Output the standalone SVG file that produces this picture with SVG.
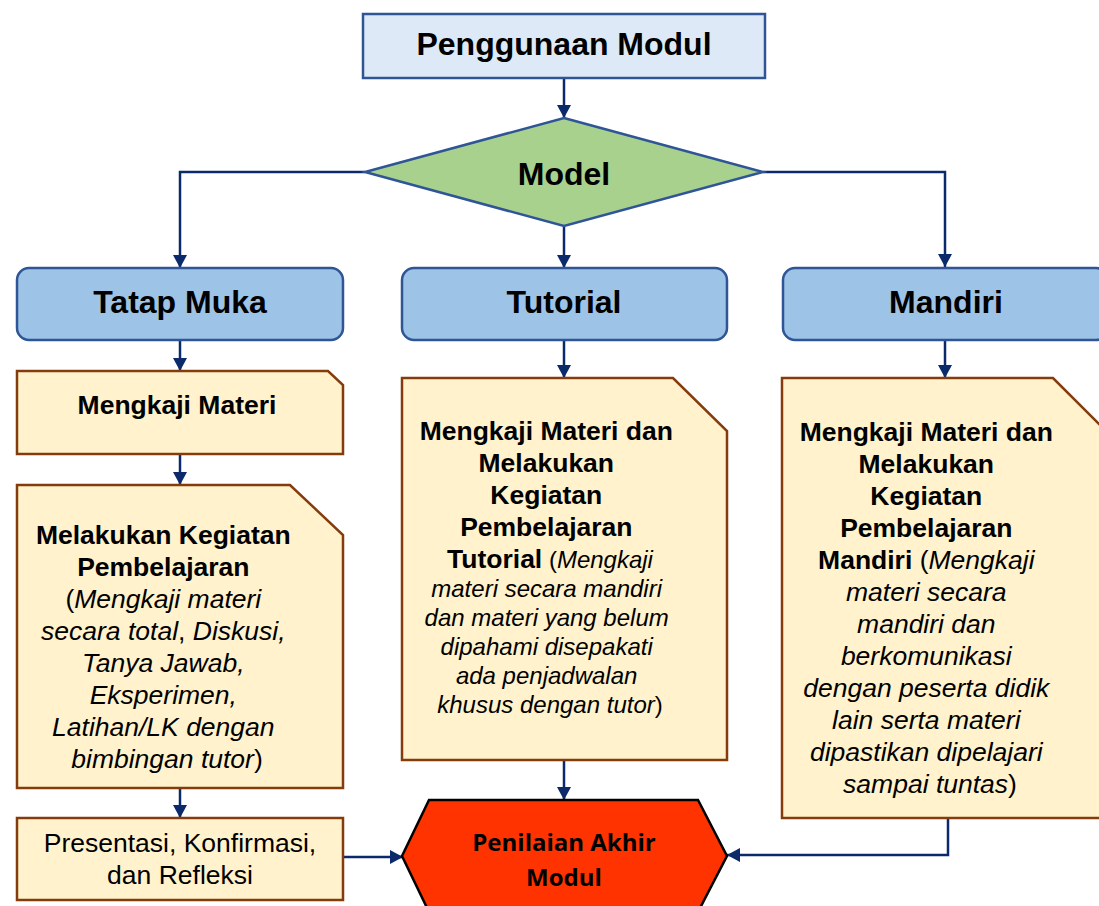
<svg xmlns="http://www.w3.org/2000/svg" width="1099" height="906" viewBox="0 0 1099 906">
<style>
.t{font-family:"Liberation Sans",Arial,sans-serif;fill:#000;text-anchor:middle}
.h{font-size:32px;font-weight:bold}
.b{font-weight:bold}
.i{font-style:italic}
.n{font-style:normal;font-weight:normal}
.s26{font-size:26.5px}
.s24{font-size:24px}
.top{fill:#dde9f6;stroke:#2f5597;stroke-width:2.5}
.dia{fill:#a9d18e;stroke:#2f5597;stroke-width:2.5}
.hdr{fill:#9dc3e6;stroke:#2f5597;stroke-width:2.5}
.doc{fill:#fff2cc;stroke:#843c0c;stroke-width:2.5}
.hex{fill:#ff3300;stroke:#000;stroke-width:2.5}
.c{fill:none;stroke:#0b2a6b;stroke-width:2.5}
</style>
<defs>
<marker id="ah" viewBox="0 0 13 14" refX="13" refY="7" markerWidth="13" markerHeight="14" markerUnits="userSpaceOnUse" orient="auto">
<path d="M0,0 L13,7 L0,14 Z" fill="#0b2a6b"/>
</marker>
</defs>

<g id="connectors">
<path class="c" d="M564,79 V118" marker-end="url(#ah)"/>
<path class="c" d="M365,172 H180 V268" marker-end="url(#ah)"/>
<path class="c" d="M564,226 V268" marker-end="url(#ah)"/>
<path class="c" d="M763,172 H945 V267" marker-end="url(#ah)"/>
<path class="c" d="M180,341 V371" marker-end="url(#ah)"/>
<path class="c" d="M564,341 V378" marker-end="url(#ah)"/>
<path class="c" d="M945,341 V378" marker-end="url(#ah)"/>
<path class="c" d="M180,455 V485" marker-end="url(#ah)"/>
<path class="c" d="M180,789 V818" marker-end="url(#ah)"/>
<path class="c" d="M564,761 V800" marker-end="url(#ah)"/>
<path class="c" d="M343,857 H403" marker-end="url(#ah)"/>
<path class="c" d="M948,818 V855 H727" marker-end="url(#ah)"/>
</g>

<g id="penggunaan">
<rect class="top" x="363" y="14" width="402" height="64"/>
<text class="t h" x="564" y="55">Penggunaan Modul</text>
</g>

<g id="model">
<polygon class="dia" points="564,118 763,172 564,226 365,172"/>
<text class="t h" x="564" y="185">Model</text>
</g>

<g id="tatapmuka">
<rect class="hdr" x="17" y="268" width="326" height="72" rx="12"/>
<text class="t h" x="180" y="313">Tatap Muka</text>
</g>

<g id="tutorial">
<rect class="hdr" x="402" y="268" width="325" height="72" rx="12"/>
<text class="t h" x="564" y="313">Tutorial</text>
</g>

<g id="mandiri">
<rect class="hdr" x="783" y="268" width="325" height="72" rx="12"/>
<text class="t h" x="946" y="313">Mandiri</text>
</g>

<g id="mengkaji">
<polygon class="doc" points="17,371 328,371 343,385 343,454 17,454"/>
<text class="t b s26" x="177" y="414">Mengkaji Materi</text>
</g>

<g id="melakukan">
<polygon class="doc" points="17,485 290,485 343,535 343,788 17,788"/>
<text class="t s26" x="167">
<tspan class="b" x="167" y="544">Melakukan Kegiatan</tspan>
<tspan class="b" x="167" y="576">Pembelajaran</tspan>
<tspan x="167" y="608">(<tspan class="i">Mengkaji materi</tspan></tspan>
<tspan x="167" y="640"><tspan class="i">secara total</tspan>, <tspan class="i">Diskusi,</tspan></tspan>
<tspan class="i" x="167" y="672">Tanya Jawab,</tspan>
<tspan class="i" x="167" y="704">Eksperimen,</tspan>
<tspan class="i" x="167" y="736">Latihan/LK dengan</tspan>
<tspan x="167" y="768"><tspan class="i">bimbingan tutor</tspan>)</tspan>
</text>
</g>

<g id="presentasi">
<rect class="doc" x="17" y="818" width="326" height="82"/>
<text class="t s26" x="180" y="852">Presentasi, Konfirmasi,</text>
<text class="t s26" x="180" y="884">dan Refleksi</text>
</g>

<g id="tutorial-doc">
<polygon class="doc" points="402,378 673,378 727,431 727,760 402,760"/>
<text class="t s26" x="550">
<tspan class="b" x="550" y="440">Mengkaji Materi dan</tspan>
<tspan class="b" x="550" y="472">Melakukan</tspan>
<tspan class="b" x="550" y="504">Kegiatan</tspan>
<tspan class="b" x="550" y="536">Pembelajaran</tspan>
<tspan x="550" y="568"><tspan class="b">Tutorial</tspan><tspan class="s24"> (<tspan class="i">Mengkaji</tspan></tspan></tspan>
</text>
<text class="t s24 i" x="550">
<tspan x="550" y="597">materi secara mandiri</tspan>
<tspan x="550" y="626">dan materi yang belum</tspan>
<tspan x="550" y="655">dipahami disepakati</tspan>
<tspan x="550" y="684">ada penjadwalan</tspan>
<tspan x="550" y="713">khusus dengan tutor<tspan class="n">)</tspan></tspan>
</text>
</g>

<g id="mandiri-doc">
<polygon class="doc" points="782,378 1053,378 1107,432 1107,818 782,818"/>
<text class="t s26" x="930">
<tspan class="b" x="930" y="441">Mengkaji Materi dan</tspan>
<tspan class="b" x="930" y="473">Melakukan</tspan>
<tspan class="b" x="930" y="505">Kegiatan</tspan>
<tspan class="b" x="930" y="537">Pembelajaran</tspan>
<tspan x="930" y="569"><tspan class="b">Mandiri</tspan> (<tspan class="i">Mengkaji</tspan></tspan>
<tspan class="i" x="930" y="601">materi secara</tspan>
<tspan class="i" x="930" y="633">mandiri dan</tspan>
<tspan class="i" x="930" y="665">berkomunikasi</tspan>
<tspan class="i" x="930" y="697">dengan peserta didik</tspan>
<tspan class="i" x="930" y="729">lain serta materi</tspan>
<tspan class="i" x="930" y="761">dipastikan dipelajari</tspan>
<tspan x="930" y="793"><tspan class="i">sampai tuntas</tspan>)</tspan>
</text>
</g>

<g id="penilaian">
<polygon class="hex" points="429,800 698,800 727,856 698,912 429,912 402,856"/>
<text style="font-family:'Open Sans','Noto Sans',sans-serif;font-weight:bold;font-size:24px;text-anchor:middle" x="564" y="851">Penilaian Akhir</text>
<text style="font-family:'Open Sans','Noto Sans',sans-serif;font-weight:bold;font-size:24px;text-anchor:middle" x="564" y="886">Modul</text>
</g>
</svg>
